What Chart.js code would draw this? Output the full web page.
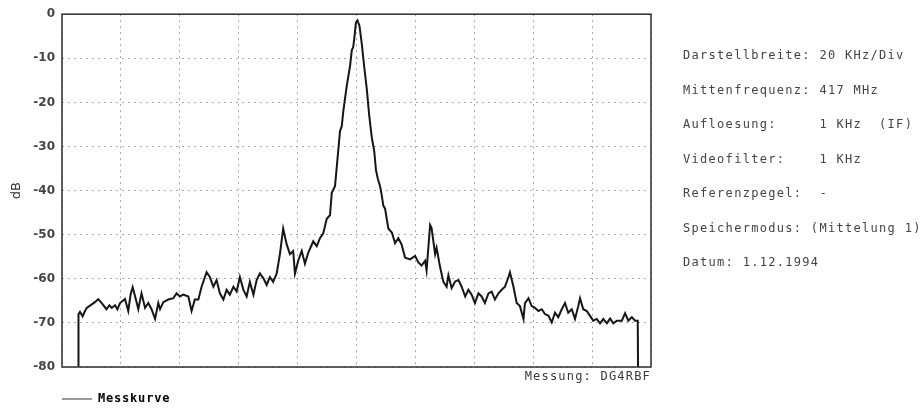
<!DOCTYPE html>
<html>
<head>
<meta charset="utf-8">
<script src="https://cdn.jsdelivr.net/npm/chart.js@4/dist/chart.umd.min.js"></script>
<style>
  html, body { margin: 0; padding: 0; background: #ffffff; }
  #wrap { position: relative; width: 920px; height: 417px; }
  #c { position: absolute; left: 0; top: 0; }
  #info { position: absolute; left: 683px; top: 38px; font-family: "DejaVu Sans Mono", monospace;
          font-size: 12px; letter-spacing: 1.3px; line-height: 34.5px; color: #444; white-space: pre; }
</style>
</head>
<body>
<div id="wrap">
  <canvas id="c" width="920" height="417"></canvas>
  <div id="info"></div>
</div>
<script>
// ---- data ----
const seriesName = "Messkurve";
const yAxisTitle = "dB";
const xAxisNote = "Messung: DG4RBF";
const yTickValues = [0, -10, -20, -30, -40, -50, -60, -70, -80];
const xGridKHz = [-100, -80, -60, -40, -20, 0, 20, 40, 60, 80, 100];
const infoLines = [
  "Darstellbreite: 20 KHz/Div",
  "Mittenfrequenz: 417 MHz",
  "Aufloesung:     1 KHz  (IF)",
  "Videofilter:    1 KHz",
  "Referenzpegel:  -",
  "Speichermodus: (Mittelung 1)",
  "Datum: 1.12.1994"
];
const freqKHz = [
  -94.5, -94.4, -93.9, -93.0, -92.2, -91.6, -89.9, -88.8, -87.7, -86.5,
  -84.9, -83.9, -83.1, -82.0, -81.2, -80.3, -78.6, -77.5, -76.7, -76.0,
  -74.9, -74.1, -73.0, -71.8, -70.7, -69.6, -68.4, -67.3, -66.7, -65.6,
  -63.9, -62.2, -61.1, -60.0, -58.8, -57.1, -56.0, -54.9, -53.7, -52.6,
  -50.9, -49.8, -48.6, -47.5, -46.4, -45.2, -44.1, -43.0, -41.8, -40.7,
  -39.6, -38.4, -37.3, -36.2, -35.0, -33.9, -32.8, -31.6, -30.5, -29.4,
  -28.3, -27.1, -26.0, -24.9, -23.7, -22.6, -21.5, -20.9, -19.8, -18.6,
  -17.5, -16.4, -14.7, -13.5, -12.4, -11.3, -10.1, -9.0, -8.4, -7.3,
  -6.7, -5.6, -5.0, -4.5, -3.3, -2.2, -1.6, -1.1, -0.7, -0.2,
  0.3, 1.0, 1.8, 2.6, 3.5, 4.3, 5.2, 6.0, 6.6, 7.2,
  8.0, 8.6, 9.1, 9.7, 10.8, 12.0, 13.1, 14.2, 15.3, 16.5,
  18.2, 19.9, 21.0, 22.1, 23.3, 23.8, 25.0, 25.5, 26.1, 26.7,
  27.2, 28.4, 29.5, 30.6, 31.2, 32.3, 33.5, 34.6, 35.7, 36.9,
  38.0, 39.1, 40.2, 41.4, 42.5, 43.6, 44.8, 45.9, 47.0, 48.2,
  49.3, 50.4, 51.6, 52.1, 53.3, 54.4, 55.5, 56.7, 57.2, 58.4,
  59.5, 60.6, 61.8, 62.9, 64.0, 65.2, 66.3, 67.4, 68.5, 69.7,
  70.8, 71.9, 73.1, 74.2, 75.3, 75.9, 77.0, 78.2, 79.3, 80.4,
  81.6, 82.7, 83.8, 85.0, 86.1, 87.2, 88.4, 90.1, 91.2, 92.3,
  93.5, 94.6, 95.5, 95.6
];
const levelDB = [
  -80, -68.0, -67.5, -68.5, -67.3, -66.6, -65.8, -65.3, -64.6, -65.5,
  -66.9, -66.0, -66.6, -66.0, -66.9, -65.5, -64.6, -67.3, -63.5, -61.9,
  -64.7, -66.9, -63.3, -66.6, -65.5, -66.9, -69.1, -65.5, -66.9, -65.3,
  -64.7, -64.4, -63.3, -64.0, -63.6, -64.0, -67.3, -64.7, -64.7, -61.8,
  -58.5, -59.6, -61.8, -60.3, -63.3, -64.7, -62.5, -63.6, -61.8, -62.9,
  -59.6, -62.5, -64.0, -60.7, -63.6, -60.3, -58.8, -59.9, -61.4, -59.6,
  -60.7, -58.8, -54.4, -48.6, -52.2, -54.4, -53.7, -58.8, -55.9, -53.7,
  -56.6, -54.1, -51.5, -52.6, -50.8, -49.7, -46.4, -45.6, -40.5, -39.0,
  -34.6, -26.5, -25.4, -22.1, -16.2, -11.8, -8.2, -7.4, -5.2, -1.9,
  -1.4, -2.6, -6.7, -11.8, -17.0, -22.9, -28.0, -30.9, -35.3, -37.2,
  -39.0, -41.2, -43.4, -44.1, -48.6, -49.5, -51.9, -50.8, -52.2, -55.2,
  -55.6, -54.8, -56.3, -57.0, -55.9, -58.1, -47.8, -48.5, -51.5, -54.4,
  -53.0, -57.4, -60.7, -61.8, -59.2, -62.1, -60.6, -60.3, -61.8, -64.0,
  -62.5, -63.6, -65.5, -63.3, -64.0, -65.5, -63.3, -62.9, -64.7, -63.3,
  -62.5, -61.8, -59.6, -58.5, -61.8, -65.5, -66.2, -69.1, -65.5, -64.4,
  -66.2, -66.6, -67.3, -66.9, -68.0, -68.4, -69.9, -67.7, -68.7, -66.9,
  -65.5, -67.7, -66.9, -69.1, -66.2, -64.4, -66.9, -67.3, -68.4, -69.5,
  -69.1, -70.1, -69.1, -70.1, -69.0, -70.1, -69.5, -69.5, -67.8, -69.5,
  -68.7, -69.5, -69.5, -80
];

// ---- info panel (real text) ----
document.getElementById('info').textContent = infoLines.join("\n");

const points = freqKHz.map((f, i) => ({ x: f, y: levelDB[i] }));

function withSpacing(ctx, spacing, fn) {
  ctx.save();
  if ('letterSpacing' in ctx) ctx.letterSpacing = spacing;
  fn();
  ctx.restore();
}

const framePlugin = {
  id: 'frame',
  beforeDraw(chart) {
    const ctx = chart.ctx;
    if (chart.scales.x && !chart.scales.x._patched) {
      const sx = chart.scales.x;
      const origTitle = sx.drawTitle.bind(sx);
      sx.drawTitle = () => withSpacing(ctx, '1.2px', origTitle);
      sx._patched = true;
    }
    if (chart.legend && !chart.legend._patched) {
      const lg = chart.legend;
      const origDraw = lg.draw.bind(lg);
      lg.draw = (a) => withSpacing(ctx, '0.8px', () => origDraw(a));
      lg._patched = true;
    }
  },
  afterDatasetsDraw(chart) {
    const { ctx, chartArea: a } = chart;
    ctx.save();
    ctx.strokeStyle = '#3a3a3a';
    ctx.lineWidth = 1.6;
    ctx.strokeRect(a.left, a.top, a.right - a.left, a.bottom - a.top);
    ctx.restore();
  }
};

new Chart(document.getElementById('c'), {
  type: 'line',
  data: {
    datasets: [{
      label: seriesName,
      data: points,
      borderColor: '#161616',
      backgroundColor: '#161616',
      borderWidth: 2,
      pointRadius: 0,
      tension: 0,
      fill: false
    }]
  },
  options: {
    responsive: false,
    animation: false,
    events: [],
    layout: { padding: { left: 0, top: 13, right: 269, bottom: 2 } },
    scales: {
      x: {
        type: 'linear',
        min: -100,
        max: 100,
        afterBuildTicks: (s) => { s.ticks = xGridKHz.map(v => ({ value: v })); },
        afterFit: (s) => { s.height = 26; },
        ticks: { display: false },
        grid: { color: '#a8a8a8', lineWidth: 1, drawTicks: false },
        border: { display: false, dash: [2, 4] },
        title: {
          display: true,
          text: xAxisNote,
          align: 'end',
          color: '#3a3a3a',
          font: { family: 'DejaVu Sans Mono', size: 12 },
          padding: { top: 0, bottom: 9 }
        }
      },
      y: {
        type: 'linear',
        min: -80,
        max: 0,
        afterBuildTicks: (s) => { s.ticks = yTickValues.map(v => ({ value: v })); },
        afterFit: (s) => { s.width = 62; },
        ticks: {
          color: '#444',
          padding: 7,
          font: { family: 'DejaVu Sans', size: 12, weight: 'bold' }
        },
        grid: { color: '#a8a8a8', lineWidth: 1, drawTicks: false },
        border: { display: false, dash: [2, 4] },
        title: {
          display: true,
          text: yAxisTitle,
          color: '#333',
          font: { family: 'DejaVu Sans', size: 13 },
          padding: { top: 9, bottom: 0 }
        }
      }
    },
    plugins: {
      legend: {
        display: true,
        position: 'bottom',
        align: 'start',
        fullSize: false,
        labels: {
          boxWidth: 30,
          boxHeight: 2,
          padding: 0,
          color: '#333',
          font: { family: 'DejaVu Sans Mono', size: 12, weight: 'bold' },
          generateLabels: (chart) => chart.data.datasets.map((d, i) => ({
            text: d.label,
            fillStyle: '#9a9a9a',
            strokeStyle: '#9a9a9a',
            lineWidth: 0,
            hidden: false,
            datasetIndex: i
          }))
        }
      },
      tooltip: { enabled: false }
    }
  },
  plugins: [framePlugin]
});
</script>
</body>
</html>
